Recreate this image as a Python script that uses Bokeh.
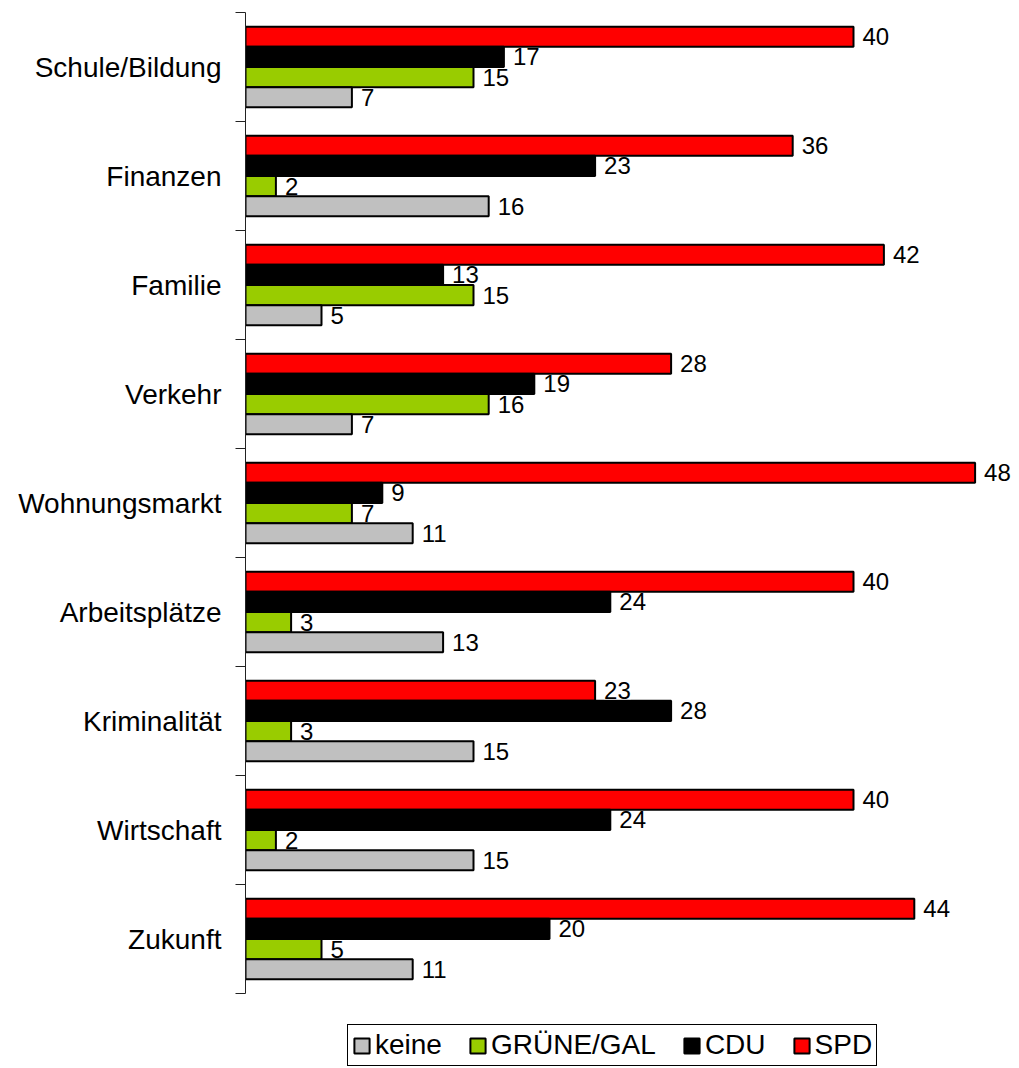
from bokeh.plotting import figure
from bokeh.models import (ColumnDataSource, Range1d, FixedTicker, LabelSet,
                          Legend, LegendItem)
from bokeh.core.properties import value
from bokeh.transform import dodge
from bokeh.embed import file_html
from bokeh.resources import INLINE

categories = ["Schule/Bildung", "Finanzen", "Familie", "Verkehr", "Wohnungsmarkt",
              "Arbeitsplätze", "Kriminalität", "Wirtschaft", "Zukunft"]
keine = [7, 16, 5, 7, 11, 13, 15, 15, 11]
gruene = [15, 2, 15, 16, 7, 3, 3, 2, 5]
cdu = [17, 23, 13, 19, 9, 24, 28, 24, 20]
spd = [40, 36, 42, 28, 48, 40, 23, 40, 44]

series_names = ["SPD", "CDU", "GRÜNE/GAL", "keine"]
series_colors = ["#FF0000", "#000000", "#99CC00", "#C0C0C0"]

FONT = "Liberation Sans"
px_per_cat = 109.0
frame_h = 1054
frame_w = 766
px_per_unit = 15.2
bar_h = 0.185

pos = [i + 0.5 for i in range(len(categories))]
src = ColumnDataSource(dict(cat=categories, pos=pos, keine=keine, gruene=gruene,
                            cdu=cdu, spd=spd))
cols = ["spd", "cdu", "gruene", "keine"]

p = figure(frame_width=frame_w, frame_height=frame_h,
           x_range=Range1d(0, frame_w / px_per_unit),
           y_range=Range1d(frame_h / px_per_cat, 0),
           output_backend="svg", toolbar_location=None,
           x_axis_location=None,
           min_border_left=245, min_border_right=0, min_border_top=12,
           min_border_bottom=0)
p.outline_line_color = None
p.grid.visible = False
p.background_fill_color = "white"

renderers = {}
for k, (name, col, color) in enumerate(zip(series_names, cols, series_colors)):
    off = (k - 1.5) * bar_h
    r = p.hbar(y=dodge("pos", off), right=col, left=0, height=bar_h, source=src,
               fill_color=color, line_color="black", line_width=2)
    renderers[name] = r

for k, col in enumerate(cols):
    off = (k - 1.5) * bar_h
    lbl = LabelSet(x=col, y=dodge("pos", off), text=col, source=src,
                   x_offset=9, text_align="left", text_baseline="middle",
                   text_font=value(FONT), text_font_size=value("24px"),
                   text_color="black",
                   background_fill_color="white")
    p.add_layout(lbl)

ax = p.yaxis[0]
ax.bounds = (0, len(categories))
ax.ticker = FixedTicker(ticks=pos, minor_ticks=list(range(len(categories) + 1)))
ax.major_label_overrides = {pp: c for pp, c in zip(pos, categories)}
ax.major_tick_in = 0
ax.major_tick_out = 0
ax.minor_tick_in = 0
ax.minor_tick_out = 10
ax.minor_tick_line_color = "#222222"
ax.axis_line_color = "#222222"
ax.major_label_standoff = 14
ax.major_label_text_font = FONT
ax.major_label_text_font_size = "28px"
ax.major_label_text_color = "black"

legend = Legend(items=[LegendItem(label=n, renderers=[renderers[n]])
                       for n in ["keine", "GRÜNE/GAL", "CDU", "SPD"]],
                orientation="horizontal", location=(102, 0),
                label_text_font=FONT, label_text_font_size="28px",
                label_text_color="black",
                glyph_width=19, glyph_height=19, label_standoff=4,
                spacing=26, padding=4, margin=0,
                border_line_color="black", border_line_width=1,
                border_line_alpha=1,
                background_fill_color="white", background_fill_alpha=1)
p.add_layout(legend)

open("out.html", "w").write(file_html(p, INLINE))
